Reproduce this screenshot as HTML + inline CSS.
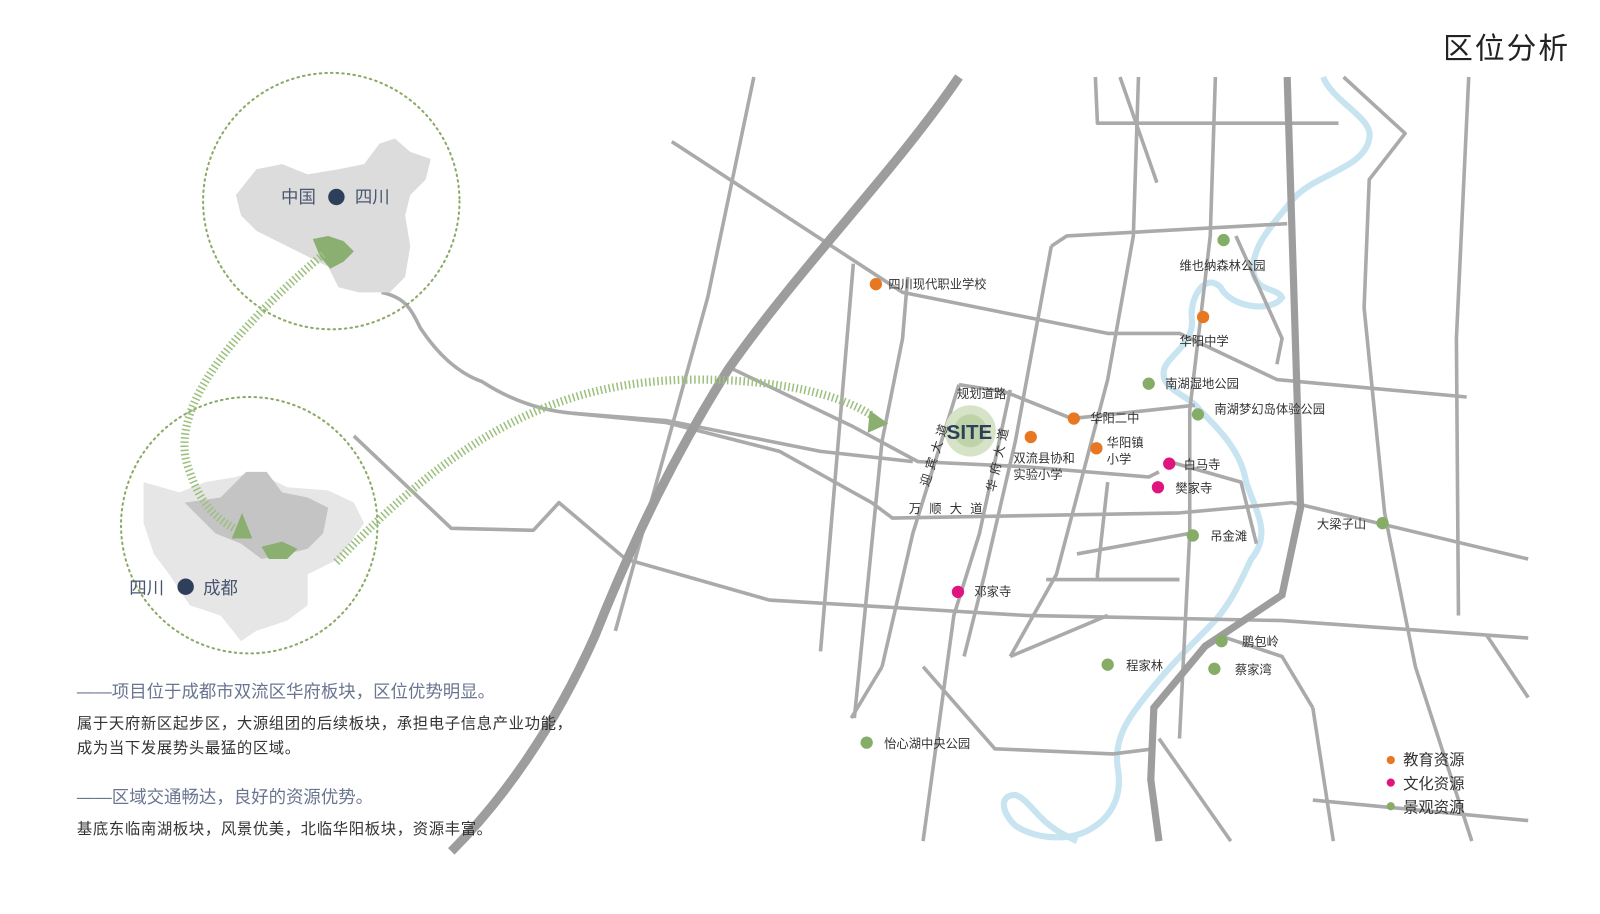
<!DOCTYPE html>
<html><head><meta charset="utf-8"><style>
html,body{margin:0;padding:0;background:#fff}
svg{display:block}
text{font-family:"Liberation Sans","Noto Sans CJK SC",sans-serif}
</style></head><body>
<svg width="1600" height="914" viewBox="0 0 1560 891" xmlns="http://www.w3.org/2000/svg">
<rect width="1560" height="891" fill="#fff"/>
<text x="1407" y="57" font-size="29" fill="#222" letter-spacing="2">区位分析</text>

<!-- river -->
<path d="M1290,75 C1300,100 1340,115 1335,135 C1330,165 1280,170 1260,195 C1240,220 1220,240 1222,265 C1225,285 1245,280 1250,290 C1240,305 1200,300 1190,280 C1175,265 1160,290 1162,310 C1165,335 1140,345 1135,360 C1130,380 1160,385 1170,400 C1190,420 1210,440 1215,470 C1225,500 1240,520 1220,545 C1210,565 1200,590 1180,610 C1160,630 1140,650 1120,675 C1100,700 1085,720 1090,750 C1095,780 1080,800 1060,810 C1040,820 1010,818 990,805 C975,790 975,775 990,775 C1005,780 1010,800 1040,815 L1050,820" fill="none" stroke="#c8e4f0" stroke-width="6"/>

<g fill="none" stroke="#aaa" stroke-width="3.5" stroke-linejoin="round">
<path d="M735,75 L690,290 L600,615"/>
<path d="M655,138 L880,285 L1080,325 L1150,325 L1245,370 L1430,387"/>
<path d="M372,285 C395,290 400,300 410,320 C430,350 450,365 470,372 C490,385 520,400 560,403 L650,410 L700,420 L800,440 L890,450"/>
<path d="M715,360 L830,415 L895,450 L1000,455 L1120,465 L1130,460"/>
<path d="M345,425 L440,515 L520,517 L545,490 L610,545 L750,585 L1000,600 L1250,605 L1490,622"/>
<path d="M560,403 L650,412 L760,440 L850,490 L870,505 L1150,500 L1260,490 L1490,545"/>
<path d="M832,257 L800,635"/>
<path d="M885,270 L880,330 L860,430 L833,700"/>
<path d="M935,375 L890,520 L860,650"/>
<path d="M985,380 L955,520 L930,600 L900,820"/>
<path d="M1025,240 L990,430 L960,560 L940,640"/>
<path d="M1025,240 L1040,230 L1255,218"/>
<path d="M1110,75 L1105,230 L1080,370 L1030,560 L985,640"/>
<path d="M1185,75 L1180,230 L1160,400 L1160,520 L1150,720"/>
<path d="M1068,75 L1070,120 L1305,120"/>
<path d="M1092,75 L1128,178"/>
<path d="M1310,75 L1370,130 L1335,175 L1330,300 L1350,500 L1380,650 L1435,820"/>
<path d="M1432,75 L1420,330 L1422,600"/>
<path d="M1205,230 L1250,330 L1245,355"/>
<path d="M935,375 L980,382 L1045,408 L1120,400 L1165,395"/>
<path d="M1140,450 L1210,470 L1225,530"/>
<path d="M1080,470 L1070,560 L1070,565 L1150,565"/>
<path d="M1020,565 L1150,565"/>
<path d="M900,650 L970,730 L1085,735 L1125,730"/>
<path d="M1280,690 L1300,820"/>
<path d="M1280,780 L1490,800"/>
<path d="M1450,620 L1490,680"/>
<path d="M1130,720 L1200,820"/>
<path d="M1050,540 L1160,520"/>
<path d="M985,640 L1080,600"/>
<path d="M830,700 L860,650"/>
<path d="M1190,620 L1250,640 L1280,690"/>
</g>
<!-- thick roads -->
<path d="M935,75 C870,170 780,260 710,360 C660,440 620,520 580,620 C540,710 490,780 440,830" fill="none" stroke="#9d9d9d" stroke-width="9"/>
<path d="M1255,75 L1262,300 L1268,495 L1250,580 L1175,630 L1125,690 L1122,760 L1130,820" fill="none" stroke="#9d9d9d" stroke-width="7"/>

<!-- left circles -->
<circle cx="323" cy="196" r="125" fill="none" stroke="#8aaa66" stroke-width="2" stroke-dasharray="1.5 4" stroke-linecap="round"/>
<circle cx="243" cy="512" r="125" fill="none" stroke="#8aaa66" stroke-width="2" stroke-dasharray="1.5 4" stroke-linecap="round"/>
<!-- china map -->
<path d="M230,190 L250,165 L275,160 L300,170 L330,165 L355,160 L370,140 L385,135 L400,148 L420,155 L415,175 L400,190 L395,210 L400,240 L395,270 L380,285 L350,285 L330,280 L320,260 L300,250 L280,240 L250,225 L235,210 Z" fill="#dcdcdc"/>
<path d="M305,233 L320,230 L335,235 L345,245 L335,255 L322,262 L312,250 Z" fill="#8aaf70"/>
<!-- sichuan map -->
<path d="M140,470 L175,480 L200,470 L230,465 L245,460 L260,465 L280,475 L320,478 L345,490 L355,510 L330,545 L300,560 L300,590 L280,605 L250,615 L235,625 L215,600 L185,590 L165,560 L150,540 L140,510 Z" fill="#e6e6e6"/>
<path d="M180,490 L215,485 L240,460 L260,460 L275,480 L300,485 L320,495 L315,520 L300,535 L280,540 L255,545 L235,530 L210,520 L195,505 Z" fill="#c4c4c4"/>
<path d="M255,533 L275,528 L290,535 L280,545 L262,545 Z" fill="#8aaf70"/>
<polygon points="226,525 236,500 246,525" fill="#8aaf70"/>

<!-- hatched arrows -->
<g fill="none" stroke="#9dc07f" stroke-width="8" stroke-dasharray="1.5 2.5">
<path d="M315,248 C230,320 160,400 185,460 C195,490 210,505 228,515"/>
<path d="M328,548 C440,430 540,370 680,370 C760,370 820,385 850,405"/>
</g>
<polygon points="848,400 866,413 846,422" fill="#8aaf70"/>

<text x="274" y="198" font-size="17" fill="#4a5670">中国</text>
<circle cx="328" cy="192" r="8" fill="#2e3f5c"/>
<text x="346" y="198" font-size="17" fill="#4a5670">四川</text>
<text x="126" y="579" font-size="17" fill="#4a5670">四川</text>
<circle cx="181" cy="572" r="8" fill="#2e3f5c"/>
<text x="198" y="579" font-size="17" fill="#4a5670">成都</text>

<text x="75" y="680" font-size="17" fill="#6a7590">——项目位于成都市双流区华府板块，区位优势明显。</text>
<text x="75" y="710" font-size="15" fill="#333" letter-spacing="0.6">属于天府新区起步区，大源组团的后续板块，承担电子信息产业功能，</text>
<text x="75" y="734" font-size="15" fill="#333" letter-spacing="0.6">成为当下发展势头最猛的区域。</text>
<text x="75" y="783" font-size="17" fill="#6a7590">——区域交通畅达，良好的资源优势。</text>
<text x="75" y="813" font-size="15" fill="#333" letter-spacing="0.6">基底东临南湖板块，风景优美，北临华阳板块，资源丰富。</text>

<!-- SITE -->
<circle cx="946" cy="420" r="25" fill="#d6e3c6"/>
<circle cx="946" cy="420" r="16" fill="#bfd3a8"/>
<text x="923" y="428" font-size="20" font-weight="bold" fill="#2e3f5c">SITE</text>
<text x="933" y="388" font-size="12" fill="#333">规划道路</text>
<text x="886" y="500" font-size="12" fill="#333" letter-spacing="8">万顺大道</text>
<text x="905" y="475" font-size="12" fill="#333" transform="rotate(-72 905 475)" letter-spacing="5">迎宾大道</text>
<text x="970" y="480" font-size="12" fill="#333" transform="rotate(-78 970 480)" letter-spacing="5">华府大道</text>

<g font-size="12" fill="#333">
<circle cx="854" cy="277" r="6" fill="#e87722"/><text x="866" y="281">四川现代职业学校</text>
<circle cx="1193" cy="234" r="6" fill="#86ad68"/><text x="1150" y="263">维也纳森林公园</text>
<circle cx="1173" cy="309" r="6" fill="#e87722"/><text x="1150" y="337">华阳中学</text>
<circle cx="1120" cy="374" r="6" fill="#86ad68"/><text x="1136" y="378">南湖湿地公园</text>
<circle cx="1168" cy="404" r="6" fill="#86ad68"/><text x="1184" y="403">南湖梦幻岛体验公园</text>
<circle cx="1047" cy="408" r="6" fill="#e87722"/><text x="1063" y="412">华阳二中</text>
<circle cx="1005" cy="426" r="6" fill="#e87722"/><text x="988" y="451">双流县协和</text><text x="988" y="467">实验小学</text>
<circle cx="1069" cy="437" r="6" fill="#e87722"/><text x="1079" y="436">华阳镇</text><text x="1079" y="452">小学</text>
<circle cx="1140" cy="452" r="6" fill="#e0147f"/><text x="1154" y="457">白马寺</text>
<circle cx="1129" cy="475" r="6" fill="#e0147f"/><text x="1146" y="480">樊家寺</text>
<circle cx="1163" cy="522" r="6" fill="#86ad68"/><text x="1180" y="527">吊金滩</text>
<circle cx="1348" cy="510" r="6" fill="#86ad68"/><text x="1284" y="515">大梁子山</text>
<circle cx="934" cy="577" r="6" fill="#e0147f"/><text x="950" y="581">邓家寺</text>
<circle cx="1191" cy="625" r="6" fill="#86ad68"/><text x="1211" y="630">鹏包岭</text>
<circle cx="1080" cy="648" r="6" fill="#86ad68"/><text x="1098" y="653">程家林</text>
<circle cx="1184" cy="652" r="6" fill="#86ad68"/><text x="1204" y="657">蔡家湾</text>
<circle cx="845" cy="724" r="6" fill="#86ad68"/><text x="862" y="729">怡心湖中央公园</text>
</g>
<g font-size="15" fill="#333">
<circle cx="1356" cy="741" r="4" fill="#e87722"/><text x="1368" y="746">教育资源</text>
<circle cx="1356" cy="763" r="4" fill="#e0147f"/><text x="1368" y="769">文化资源</text>
<circle cx="1356" cy="786" r="4" fill="#86ad68"/><text x="1368" y="792">景观资源</text>
</g>
</svg>
</body></html>
